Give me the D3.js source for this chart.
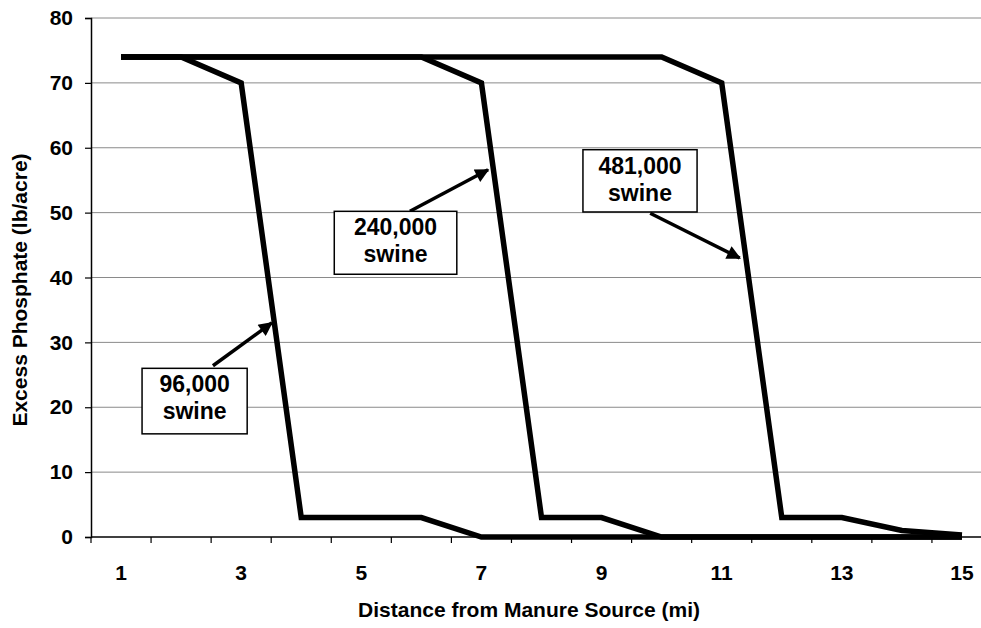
<!DOCTYPE html>
<html lang="en">
<head>
	<meta charset="utf-8">
	<title>Excess Phosphate vs Distance</title>
	<script src="https://d3js.org/d3.v7.min.js" charset="utf-8"></script>
	<style>
		body {
			margin: 0;
			background: #fff;
			font-family: Arial, "Liberation Sans", sans-serif;
		}
		svg text {
			font-weight: bold;
			fill: #000;
		}
	</style>
</head>
<body>
	<script>
		// Data
		var distances = [1, 2, 3, 4, 5, 6, 7, 8, 9, 10, 11, 12, 13, 14, 15];
		var swine96k  = [74, 74, 70, 3, 3, 3, 0, 0, 0, 0, 0, 0, 0, 0, 0];
		var swine240k = [74, 74, 74, 74, 74, 74, 70, 3, 3, 0, 0, 0, 0, 0, 0];
		var swine481k = [74, 74, 74, 74, 74, 74, 74, 74, 74, 74, 70, 3, 3, 1, 0.3];
		var xTickLabels = [1, 3, 5, 7, 9, 11, 13, 15];
		var yTicks = [0, 10, 20, 30, 40, 50, 60, 70, 80];

		// annotation boxes + arrows, in data units (distance, phosphate)
		var noteLabels = [["96,000", "swine"], ["240,000", "swine"], ["481,000", "swine"]];
		var noteBoxes = [[1.35, 3.10, 26.0, 15.9], [4.55, 6.59, 50.2, 40.5], [8.69, 10.59, 59.7, 50.1]];
		var noteArrows = [[2.53, 26.4, 3.51, 33.0], [5.81, 50.2, 7.11, 56.6], [9.81, 49.9, 11.30, 43.0]];

		var width = 981;
		var height = 628;
		// plot area (right edge runs past the window, as in the scan)
		var plotLeft = 91, plotRight = 992, plotTop = 18, plotBottom = 537;

		var svg = d3.select("body")
			.append("svg")
			.attr("width", width)
			.attr("height", height);

		var x = d3.scaleBand()
			.domain(distances)
			.range([plotLeft, plotRight]);

		// continuous version of the same axis, for annotations
		var xPos = d3.scaleLinear()
			.domain([0.5, 15.5])
			.range([plotLeft, plotRight]);

		var y = d3.scaleLinear()
			.domain([0, 80])
			.range([plotBottom, plotTop]);

		// gridlines
		svg.append("g")
			.selectAll("line")
			.data(yTicks.filter(function(d) { return d > 0; }))
			.enter()
			.append("line")
			.attr("x1", plotLeft)
			.attr("x2", plotRight)
			.attr("y1", function(d) { return y(d); })
			.attr("y2", function(d) { return y(d); })
			.attr("stroke", "#8a8a8a")
			.attr("stroke-width", 1);

		// y axis
		var yAxis = svg.append("g")
			.attr("transform", "translate(" + plotLeft + ",0)")
			.call(d3.axisLeft(y).tickValues(yTicks).tickSize(6).tickPadding(12));
		yAxis.select(".domain").attr("stroke", "#000").attr("stroke-width", 1.5);
		yAxis.selectAll(".tick line").attr("stroke", "#000").attr("stroke-width", 1.2);
		yAxis.selectAll("text")
			.attr("font-size", 21)
			.attr("font-family", "Arial, 'Liberation Sans', sans-serif");

		// x axis: tick marks between categories, labels on odd distances
		var xAxis = svg.append("g")
			.attr("transform", "translate(0," + plotBottom + ")");
		xAxis.append("line")
			.attr("x1", plotLeft)
			.attr("x2", plotRight)
			.attr("stroke", "#000")
			.attr("stroke-width", 1.5);
		xAxis.selectAll(".tk")
			.data(distances.concat(["end"]))
			.enter()
			.append("line")
			.attr("class", "tk")
			.attr("x1", function(d) { return d === "end" ? plotRight : x(d); })
			.attr("x2", function(d) { return d === "end" ? plotRight : x(d); })
			.attr("y1", 0)
			.attr("y2", 6)
			.attr("stroke", "#000")
			.attr("stroke-width", 1.2);
		xAxis.selectAll(".lbl")
			.data(xTickLabels)
			.enter()
			.append("text")
			.attr("class", "lbl")
			.attr("x", function(d) { return x(d) + x.bandwidth() / 2; })
			.attr("y", 43)
			.attr("text-anchor", "middle")
			.attr("font-size", 21)
			.text(function(d) { return d; });

		// axis titles
		svg.append("text")
			.attr("x", 529)
			.attr("y", 617)
			.attr("text-anchor", "middle")
			.attr("font-size", 21)
			.text("Distance from Manure Source (mi)");

		svg.append("text")
			.attr("transform", "translate(27,290) rotate(-90)")
			.attr("text-anchor", "middle")
			.attr("font-size", 21)
			.text("Excess Phosphate (lb/acre)");

		// series lines
		var line = d3.line()
			.x(function(d, i) { return x(distances[i]) + x.bandwidth() / 2; })
			.y(function(d) { return y(d); });

		svg.append("g")
			.selectAll("path")
			.data([swine481k, swine240k, swine96k])
			.enter()
			.append("path")
			.attr("d", line)
			.attr("fill", "none")
			.attr("stroke", "#000")
			.attr("stroke-width", 5.5)
			.attr("stroke-linejoin", "miter");

		// arrowhead
		svg.append("defs")
			.append("marker")
			.attr("id", "arrow")
			.attr("viewBox", "0 0 10 10")
			.attr("refX", 9)
			.attr("refY", 5)
			.attr("markerWidth", 4.5)
			.attr("markerHeight", 4)
			.attr("orient", "auto")
			.append("path")
			.attr("d", "M0,0 L10,5 L0,10 z")
			.attr("fill", "#000");

		// annotations
		var notes = svg.append("g");
		notes.selectAll(".arrow")
			.data(noteArrows)
			.enter()
			.append("line")
			.attr("class", "arrow")
			.attr("x1", function(d) { return xPos(d[0]); })
			.attr("y1", function(d) { return y(d[1]); })
			.attr("x2", function(d) { return xPos(d[2]); })
			.attr("y2", function(d) { return y(d[3]); })
			.attr("stroke", "#000")
			.attr("stroke-width", 3.5)
			.attr("marker-end", "url(#arrow)");

		notes.selectAll(".box")
			.data(noteBoxes)
			.enter()
			.append("rect")
			.attr("class", "box")
			.attr("x", function(d) { return xPos(d[0]); })
			.attr("y", function(d) { return y(d[2]); })
			.attr("width", function(d) { return xPos(d[1]) - xPos(d[0]); })
			.attr("height", function(d) { return y(d[3]) - y(d[2]); })
			.attr("fill", "#fff")
			.attr("stroke", "#000")
			.attr("stroke-width", 1.5);

		noteBoxes.forEach(function(b, i) {
			var cx = (xPos(b[0]) + xPos(b[1])) / 2;
			var boxTop = y(b[2]);
			var t = notes.append("text")
				.attr("text-anchor", "middle")
				.attr("font-size", 23);
			t.append("tspan").attr("x", cx).attr("y", boxTop + 24).text(noteLabels[i][0]);
			t.append("tspan").attr("x", cx).attr("y", boxTop + 51).text(noteLabels[i][1]);
		});
	</script>
</body>
</html>
